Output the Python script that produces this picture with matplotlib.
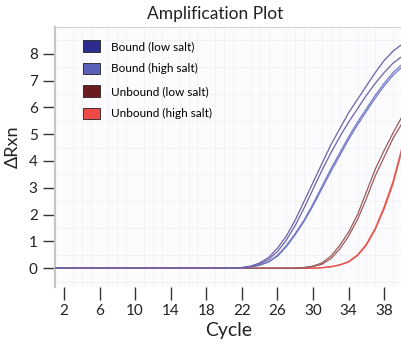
import numpy as np
import matplotlib
matplotlib.use('Agg')
import matplotlib.pyplot as plt
from matplotlib.patches import Patch

plt.rcParams['font.family'] = ['Lato', 'DejaVu Sans']

# ── data ──────────────────────────────────────────────────────────────────────
cycles = list(range(1, 41))
base21 = [0.0] * 21   # cycles 1-21
base28 = [0.0] * 28   # cycles 1-28
base30 = [0.0] * 30   # cycles 1-30

# Bound (low salt) – two replicates, cycles 22..40
bound_low_a = base21 + [0.03, 0.08, 0.2, 0.4, 0.75, 1.2, 1.8, 2.5, 3.2, 3.9,
                        4.6, 5.2, 5.8, 6.3, 6.8, 7.3, 7.75, 8.1, 8.35]
bound_low_b = base21 + [0.02, 0.06, 0.16, 0.33, 0.62, 1.05, 1.6, 2.25, 2.95, 3.65,
                        4.3, 4.9, 5.45, 5.95, 6.45, 6.9, 7.3, 7.65, 7.9]
# Bound (high salt)
bound_high_a = base21 + [0.02, 0.05, 0.12, 0.25, 0.48, 0.85, 1.3, 1.8, 2.4, 3.05,
                         3.7, 4.3, 4.9, 5.45, 5.95, 6.45, 6.9, 7.3, 7.6]
bound_high_b = base21 + [0.02, 0.05, 0.11, 0.23, 0.45, 0.8, 1.25, 1.75, 2.33, 2.97,
                         3.6, 4.2, 4.8, 5.35, 5.85, 6.35, 6.8, 7.2, 7.5]
# Unbound (low salt), cycles 29..40
unbound_low_a = base28 + [0.03, 0.08, 0.2, 0.45, 0.85, 1.35, 2.0, 2.85, 3.7, 4.4, 5.05, 5.65]
unbound_low_b = base28 + [0.02, 0.06, 0.15, 0.36, 0.72, 1.2, 1.82, 2.6, 3.45, 4.15, 4.85, 5.4]
# Unbound (high salt), cycles 31..40
unbound_high_a = base30 + [0.02, 0.06, 0.13, 0.25, 0.5, 0.9, 1.5, 2.3, 3.25, 4.5]
unbound_high_b = base30 + [0.02, 0.05, 0.12, 0.23, 0.47, 0.86, 1.45, 2.22, 3.15, 4.4]

labels = ['Bound (low salt)', 'Bound (high salt)', 'Unbound (low salt)', 'Unbound (high salt)']
legend_colors = ['#2B2C8C', '#5A60B8', '#6A1A20', '#EE4A46']
line_colors = ['#6D62A6', '#7479C8', '#9A5A5C', '#E4584F']

xticks = [2, 6, 10, 14, 18, 22, 26, 30, 34, 38]
yticks = [0, 1, 2, 3, 4, 5, 6, 7, 8]

# ── plot ──────────────────────────────────────────────────────────────────────
fig = plt.figure(figsize=(4.02, 3.45), dpi=100)
ax = fig.add_axes([0.137, 0.168, 0.863, 0.754])
ax.set_facecolor('#FCFCFE')

# unbound first so the shared baseline shows the bound (blue) colour on top
series = [(unbound_high_a, 3), (unbound_high_b, 3), (unbound_low_a, 2), (unbound_low_b, 2),
          (bound_high_a, 1), (bound_high_b, 1), (bound_low_a, 0), (bound_low_b, 0)]
for vals, k in series:
    ax.plot(cycles, vals, color=line_colors[k], lw=0.9, zorder=3)

ax.set_xlim(1.1, 40)
ax.set_ylim(-0.7, 9)

# faint grid
ax.set_xticks(np.arange(1, 41, 1), minor=True)
ax.set_yticks(np.arange(-0.5, 9, 0.5), minor=True)
ax.grid(which='minor', color='#EDEDF3', lw=0.5, zorder=0)
ax.tick_params(which='minor', length=0)

ax.set_xticks(xticks)
ax.set_yticks(yticks)
ax.tick_params(axis='both', which='major', length=9, width=1, color='#333333',
               labelsize=11, labelcolor='#222222', direction='out')
ax.tick_params(axis='x', pad=3)

for s in ['right', 'bottom']:
    ax.spines[s].set_visible(False)
ax.spines['left'].set_color('#C9C6C6')
ax.spines['left'].set_linewidth(1.6)
ax.spines['top'].set_color('#D6D2D2')
ax.spines['top'].set_linewidth(0.8)

ax.set_xlabel('Cycle', fontsize=14, color='#222222', labelpad=3)
ax.set_ylabel('ΔRxn', fontsize=13, color='#222222')
ax.yaxis.set_label_coords(-0.1, 0.54)
fig.text(0.535, 0.96, 'Amplification Plot', ha='center', va='center',
         fontsize=12.5, color='#222222')

handles = [Patch(facecolor=c, edgecolor='#222222', lw=0.6) for c in legend_colors]
ax.legend(handles, labels, loc='upper left', bbox_to_anchor=(0.05, 0.99),
          frameon=False, fontsize=8.5, handlelength=1.45, handleheight=1.15,
          labelspacing=0.9, handletextpad=0.9)

fig.savefig('out.png', dpi=100, facecolor='white')
